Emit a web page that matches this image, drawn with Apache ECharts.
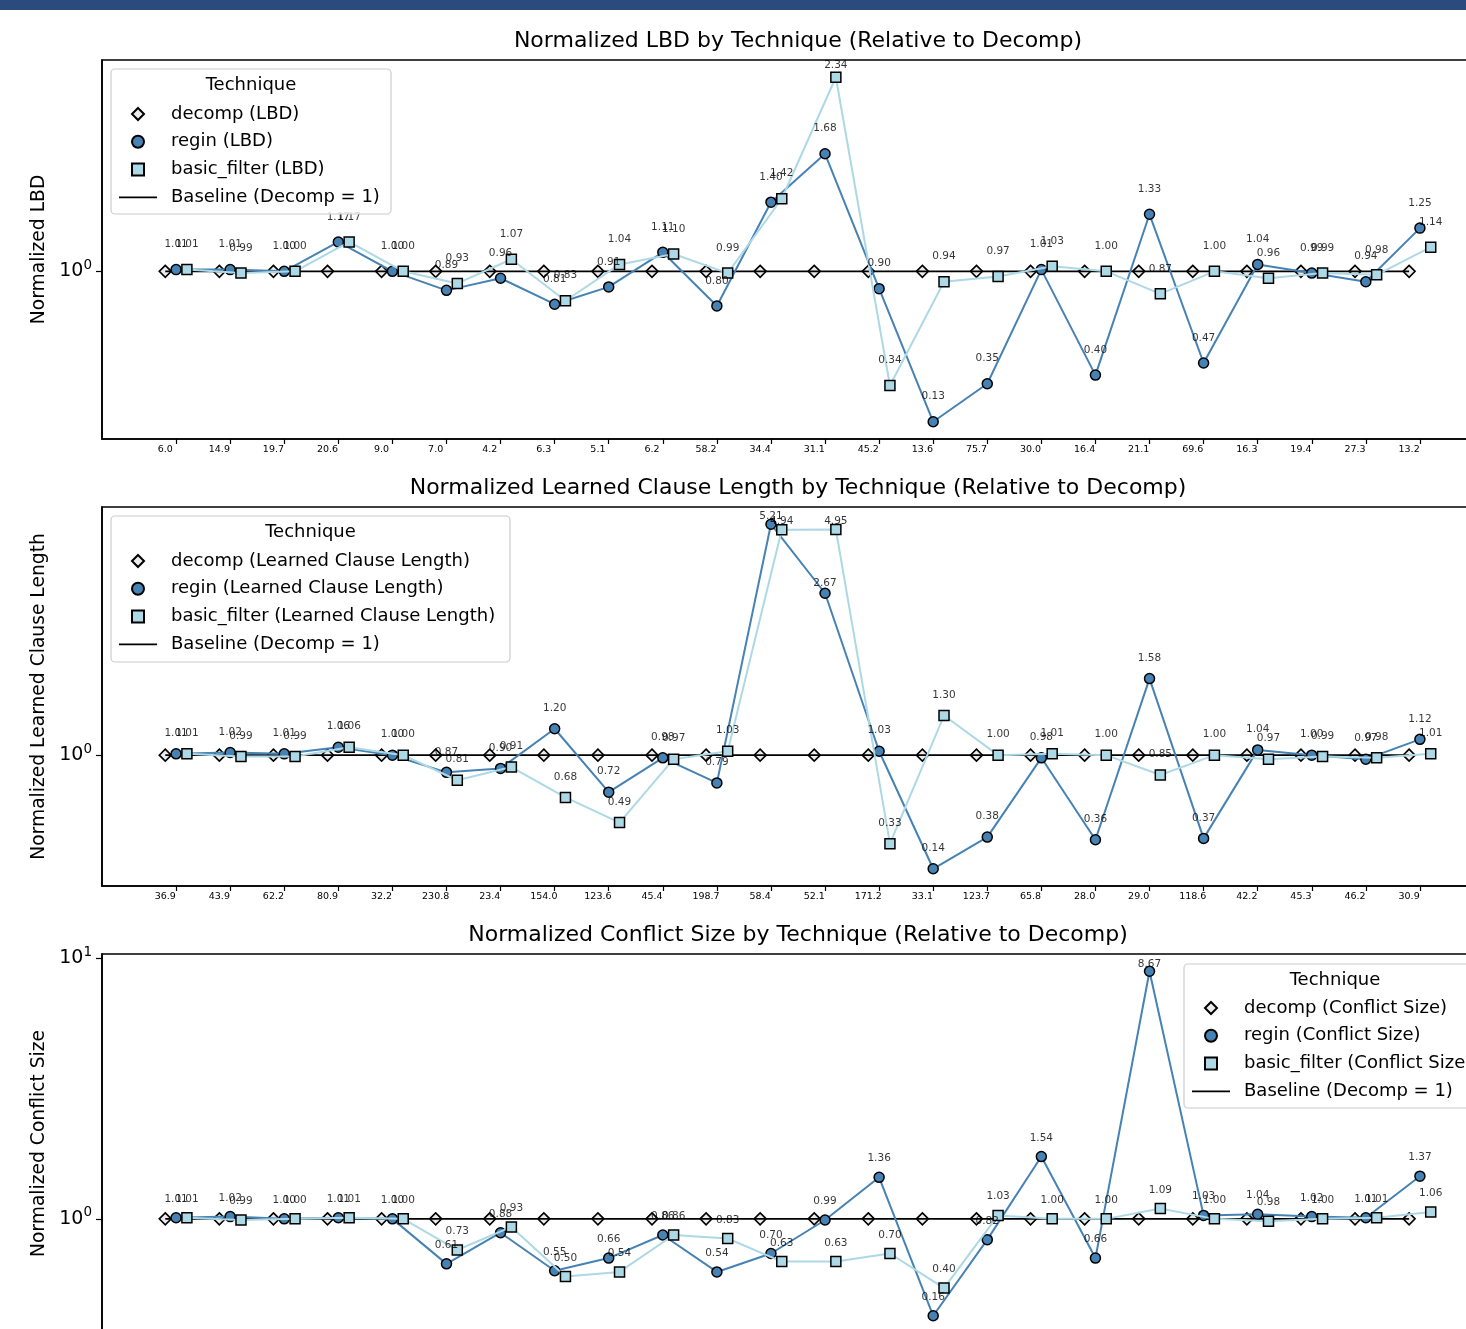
<!DOCTYPE html>
<html>
<head>
<meta charset="utf-8">
<title>Normalized metrics by technique</title>
<script src="https://cdn.jsdelivr.net/npm/echarts@6/dist/echarts.min.js"></script>
<style>
  html, body { margin: 0; padding: 0; background: #ffffff; }
  #chart { width: 1466px; height: 1329px; }
</style>
</head>
<body>
<div id="chart"></div>
<script>
// ---- data -------------------------------------------------------------
// Tick labels under each panel (decomp's raw metric per instance)
const lbdTicks = ['6.0', '14.9', '19.7', '20.6', '9.0', '7.0', '4.2', '6.3', '5.1', '6.2', '58.2', '34.4',
                  '31.1', '45.2', '13.6', '75.7', '30.0', '16.4', '21.1', '69.6', '16.3', '19.4', '27.3', '13.2'];
const clauseTicks = ['36.9', '43.9', '62.2', '80.9', '32.2', '230.8', '23.4', '154.0', '123.6', '45.4', '198.7', '58.4',
                     '52.1', '171.2', '33.1', '123.7', '65.8', '28.0', '29.0', '118.6', '42.2', '45.3', '46.2', '30.9'];

// decomp is the reference technique, so its normalized value is always 1
const decompNorm = [1, 1, 1, 1, 1, 1, 1, 1, 1, 1, 1, 1, 1, 1, 1, 1, 1, 1, 1, 1, 1, 1, 1, 1];

const lbdRegin = [1.01, 1.01, 1.00, 1.17, 1.00, 0.89, 0.96, 0.81, 0.91, 1.11, 0.80, 1.40,
                  1.68, 0.90, 0.13, 0.35, 1.01, 0.40, 1.33, 0.47, 1.04, 0.99, 0.94, 1.25];
const lbdBasic = [1.01, 0.99, 1.00, 1.17, 1.00, 0.93, 1.07, 0.83, 1.04, 1.10, 0.99, 1.42,
                  2.34, 0.34, 0.94, 0.97, 1.03, 1.00, 0.87, 1.00, 0.96, 0.99, 0.98, 1.14];

const clauseRegin = [1.01, 1.02, 1.01, 1.06, 1.00, 0.87, 0.90, 1.20, 0.72, 0.98, 0.79, 5.21,
                     2.67, 1.03, 0.14, 0.38, 0.98, 0.36, 1.58, 0.37, 1.04, 1.00, 0.97, 1.12];
const clauseBasic = [1.01, 0.99, 0.99, 1.06, 1.00, 0.81, 0.91, 0.68, 0.49, 0.97, 1.03, 4.94,
                     4.95, 0.33, 1.30, 1.00, 1.01, 1.00, 0.85, 1.00, 0.97, 0.99, 0.98, 1.01];

const conflictRegin = [1.01, 1.02, 1.00, 1.01, 1.00, 0.61, 0.88, 0.55, 0.66, 0.86, 0.54, 0.70,
                       0.99, 1.36, 0.16, 0.82, 1.54, 0.66, 8.67, 1.03, 1.04, 1.02, 1.01, 1.37];
const conflictBasic = [1.01, 0.99, 1.00, 1.01, 1.00, 0.73, 0.93, 0.50, 0.54, 0.86, 0.83, 0.63,
                       0.63, 0.70, 0.40, 1.03, 1.00, 1.00, 1.09, 1.00, 0.98, 1.00, 1.01, 1.06];

// Decade ticks on the y axes
const yDecades = [1, 10];

// ---- symmetric-log scale (linear below 2, logarithmic above) ---------
const LINTHRESH = 2;
const LINSCALE = 1 / (1 - 1 / 10);
function symlog(v) {
  const a = Math.abs(v);
  const t = a <= LINTHRESH ? a * LINSCALE : LINTHRESH * (LINSCALE + Math.log10(a / LINTHRESH));
  return v < 0 ? -t : t;
}
function symexp(t) {
  const a = Math.abs(t);
  const v = a <= LINTHRESH * LINSCALE ? a / LINSCALE : LINTHRESH * Math.pow(10, a / LINTHRESH - LINSCALE);
  return t < 0 ? -v : v;
}

// ---- layout & style ---------------------------------------------------
const FONT = 'DejaVu Sans';
const STEEL = '#4682b4';
const LIGHT = '#add8e6';
const SHIFT = { decomp: -0.2, regin: 0, basic: 0.2 };   // per-technique x offset within a slot
const LABEL_LIFT = 0.11;                                  // value labels sit just above each marker
const PLOT_LEFT = 102, PLOT_W = 1392, PLOT_H = 379;

// legend marker shapes (paths keep their aspect inside the wide legend slot)
const ICON = {
  diamond: 'path://M6,0L12,6L6,12L0,6Z',
  circle: 'path://M6,0A6,6,0,1,1,5.99,0Z',
  square: 'path://M0,0H12V12H0Z',
  line: 'path://M0,0H40V2H0Z'
};

const panels = [
  { metric: 'LBD', title: 'Normalized LBD by Technique (Relative to Decomp)', yName: 'Normalized LBD',
    ticks: lbdTicks, regin: lbdRegin, basic: lbdBasic, top: 60, titleTop: 30,
    legend: { left: 119, top: 105, box: [111, 69, 280, 145] } },
  { metric: 'Learned Clause Length', title: 'Normalized Learned Clause Length by Technique (Relative to Decomp)',
    yName: 'Normalized Learned Clause Length',
    ticks: clauseTicks, regin: clauseRegin, basic: clauseBasic, top: 507, titleTop: 477,
    legend: { left: 119, top: 552, box: [111, 516, 399, 146] } },
  { metric: 'Conflict Size', title: 'Normalized Conflict Size by Technique (Relative to Decomp)',
    yName: 'Normalized Conflict Size',
    ticks: null, regin: conflictRegin, basic: conflictBasic, top: 954, titleTop: 924,
    legend: { left: 1192, top: 999, box: [1184, 964, 320, 144] } }
];

const option = {
  animation: false,
  backgroundColor: '#ffffff',
  textStyle: { fontFamily: FONT },
  title: [], grid: [], xAxis: [], yAxis: [], legend: [], series: [],
  graphic: {
    elements: [
      { type: 'rect', z: 10, shape: { x: 0, y: 0, width: 1466, height: 10 }, style: { fill: '#2b4a7e' } }
    ]
  }
};

panels.forEach((p, k) => {
  const n = p.regin.length;
  const idx = p.regin.map((_, i) => i);

  // axis extents: data range plus 5% margin on each side
  const allT = decompNorm.concat(p.regin, p.basic).map(symlog);
  const tMin = Math.min.apply(null, allT), tMax = Math.max.apply(null, allT);
  const yPad = 0.05 * (tMax - tMin);
  const yMin = tMin - yPad, yMax = tMax + yPad;
  const xLo = SHIFT.decomp, xHi = n - 1 + SHIFT.basic, xPad = 0.05 * (xHi - xLo);
  const yTicks = yDecades.map(symlog).filter(t => t >= yMin && t <= yMax);

  option.title.push({
    text: p.title, left: 798, top: p.titleTop, textAlign: 'center', padding: 0,
    textStyle: { fontSize: 22, fontWeight: 'normal', fontFamily: FONT, color: '#000' }
  });

  option.grid.push({
    left: PLOT_LEFT, top: p.top, width: PLOT_W, height: PLOT_H,
    outerBoundsMode: 'none', containLabel: false,
    show: true, borderColor: '#000', borderWidth: 1.6, backgroundColor: 'rgba(0,0,0,0)'
  });

  option.xAxis.push({
    gridIndex: k, type: 'value', min: xLo - xPad, max: xHi + xPad,
    splitLine: { show: false },
    axisLine: { show: true, onZero: false, lineStyle: { color: '#000', width: 1.6 } },
    axisTick: { show: true, customValues: idx, length: 5, lineStyle: { color: '#000', width: 1.2 } },
    axisLabel: {
      show: !!p.ticks,
      customValues: idx.map(i => i + SHIFT.decomp),
      formatter: v => (p.ticks ? p.ticks[Math.round(v - SHIFT.decomp)] : ''),
      fontSize: 9.5, fontFamily: FONT, color: '#000', margin: 6
    }
  });

  option.yAxis.push({
    gridIndex: k, type: 'value', min: yMin, max: yMax,
    name: p.yName, nameLocation: 'middle', nameGap: 52,
    nameTextStyle: { fontSize: 18.7, fontFamily: FONT, color: '#000' },
    splitLine: { show: false },
    axisLine: { show: true, onZero: false, lineStyle: { color: '#000', width: 1.6 } },
    axisTick: { show: true, customValues: yTicks, length: 6, lineStyle: { color: '#000', width: 1.2 } },
    axisLabel: {
      customValues: yTicks, margin: 10, color: '#000',
      formatter: v => '{b|10}{s|' + Math.round(Math.log10(symexp(v))) + '}',
      rich: {
        b: { fontSize: 19, fontFamily: FONT, color: '#000' },
        s: { fontSize: 13.5, fontFamily: FONT, color: '#000', lineHeight: 13, padding: [0, 0, 12, 0] }
      }
    }
  });

  const m = p.metric;
  const names = {
    decomp: 'decomp (' + m + ')',
    regin: 'regin (' + m + ')',
    basic: 'basic_filter (' + m + ')',
    base: 'Baseline (Decomp = 1)'
  };

  // baseline through the decomp points
  option.series.push({
    type: 'line', name: names.base, xAxisIndex: k, yAxisIndex: k, silent: true,
    data: decompNorm.map((v, i) => [i + SHIFT.decomp, symlog(v)]),
    symbol: 'none', z: 3,
    lineStyle: { color: '#000', width: 1.8 }, itemStyle: { color: '#000' }
  });
  // decomp markers
  option.series.push({
    type: 'scatter', name: names.decomp, xAxisIndex: k, yAxisIndex: k, silent: true,
    data: decompNorm.map((v, i) => [i + SHIFT.decomp, symlog(v)]),
    symbol: 'diamond', symbolSize: 12, z: 2,
    itemStyle: { color: '#ececec', borderColor: '#000', borderWidth: 1.6, opacity: 1 }
  });
  // regin
  option.series.push({
    type: 'line', name: names.regin, xAxisIndex: k, yAxisIndex: k, silent: true,
    data: p.regin.map((v, i) => [i + SHIFT.regin, symlog(v)]),
    symbol: 'circle', symbolSize: 10, showSymbol: true, z: 4,
    lineStyle: { color: STEEL, width: 2 },
    itemStyle: { color: STEEL, borderColor: '#000', borderWidth: 1.5 }
  });
  // basic_filter
  option.series.push({
    type: 'line', name: names.basic, xAxisIndex: k, yAxisIndex: k, silent: true,
    data: p.basic.map((v, i) => [i + SHIFT.basic, symlog(v)]),
    symbol: 'rect', symbolSize: 10, showSymbol: true, z: 5,
    lineStyle: { color: LIGHT, width: 2 },
    itemStyle: { color: LIGHT, borderColor: '#000', borderWidth: 1.5 }
  });
  // value labels for regin and basic_filter
  const labelPts = p.regin.map((v, i) => [i + SHIFT.regin, symlog(v + LABEL_LIFT), v])
    .concat(p.basic.map((v, i) => [i + SHIFT.basic, symlog(v + LABEL_LIFT), v]));
  option.series.push({
    type: 'scatter', name: 'value labels ' + m, xAxisIndex: k, yAxisIndex: k, silent: true,
    data: labelPts, symbolSize: 1, z: 6,
    itemStyle: { color: 'rgba(0,0,0,0)' },
    label: {
      show: true, position: 'top', distance: 0,
      formatter: q => q.value[2].toFixed(2),
      fontSize: 10.5, fontFamily: FONT, color: '#000'
    }
  });

  // legend frame and heading
  const b = p.legend.box;
  option.graphic.elements.push({
    type: 'rect', z: 10, silent: true,
    shape: { x: b[0], y: b[1], width: b[2], height: b[3], r: 4 },
    style: { fill: 'rgba(255,255,255,0.85)', stroke: '#cccccc', lineWidth: 1.2 }
  });
  option.graphic.elements.push({
    type: 'text', z: 11, silent: true,
    style: {
      text: 'Technique', x: k === 2 ? 1335 : b[0] + b[2] / 2, y: b[1] + 16,
      align: 'center', verticalAlign: 'middle', textAlign: 'center', textVerticalAlign: 'middle',
      fontSize: 18, fontFamily: FONT, fill: '#000'
    }
  });

  option.legend.push({
    orient: 'vertical', left: p.legend.left, top: p.legend.top, padding: 0,
    itemWidth: 38, itemHeight: 12, itemGap: 9.8, selectedMode: false, z: 12,
    symbolKeepAspect: true,
    textStyle: { fontSize: 18, fontFamily: FONT, color: '#000', padding: [0, 0, 0, 9] },
    data: [
      { name: names.decomp, icon: ICON.diamond },
      { name: names.regin, icon: ICON.circle },
      { name: names.basic, icon: ICON.square },
      { name: names.base, icon: ICON.line }
    ]
  });
});

const chart = echarts.init(document.getElementById('chart'), null, { renderer: 'canvas' });
chart.setOption(option);
</script>
</body>
</html>
